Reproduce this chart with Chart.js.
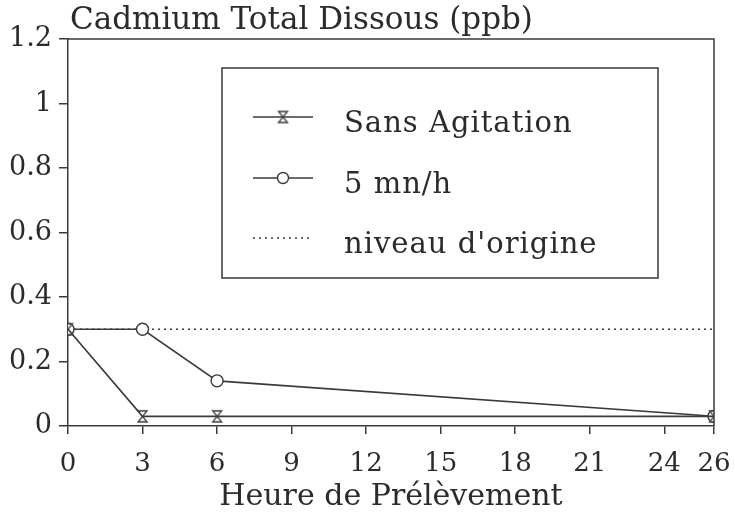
<!DOCTYPE html>
<html>
<head>
<meta charset="utf-8">
<script src="https://cdn.jsdelivr.net/npm/chart.js@4.4.1/dist/chart.umd.min.js"></script>
<style>
  html, body { margin: 0; padding: 0; background: #ffffff; }
  #wrap { position: relative; width: 735px; height: 515px; }
</style>
</head>
<body>
<div id="wrap"><canvas id="c"></canvas></div>
<script>
// ---- data ----
const chartTitle = "Cadmium Total Dissous (ppb)";
const xAxisTitle = "Heure de Prélèvement";
const hours = [0, 3, 6, 26];
const sansAgitation = [0.30, 0.03, 0.03, 0.03];
const agitation5 = [0.30, 0.30, 0.14, 0.03];
const niveauHours = [0, 26];
const niveauOrigine = [0.30, 0.30];
const seriesLabels = ["Sans Agitation", "5 mn/h", "niveau d'origine"];
const xTicks = [0, 3, 6, 9, 12, 15, 18, 21, 24, 26];
const yTicks = [0, 0.2, 0.4, 0.6, 0.8, 1, 1.2];

const INK = '#2b2b2b';
const LINE = '#3a3a3a';
const FONT = "'DejaVu Serif', serif";

function pts(xs, ys) { return xs.map((x, i) => ({ x: x, y: ys[i] })); }

function makeHourglass(w, h) {
  const c = document.createElement('canvas');
  c.width = w + 4; c.height = h + 4;
  const g = c.getContext('2d');
  g.strokeStyle = LINE; g.lineWidth = 1.3; g.fillStyle = '#ffffff';
  const l = 2, t = 2, r = 2 + w, b = 2 + h;
  g.beginPath();
  g.moveTo(l, t); g.lineTo(r, t); g.lineTo(l, b); g.lineTo(r, b); g.closePath();
  g.fill(); g.stroke();
  return c;
}
const hourglass = makeHourglass(9, 11);

const framePlugin = {
  id: 'frame',
  afterDatasetsDraw(chart) {
    const { ctx, chartArea: a } = chart;
    ctx.save();
    ctx.strokeStyle = LINE; ctx.lineWidth = 1.5;
    ctx.beginPath();
    ctx.moveTo(a.left, a.top); ctx.lineTo(a.right, a.top); ctx.lineTo(a.right, a.bottom);
    ctx.stroke();
    ctx.restore();
  }
};

const titlePlugin = {
  id: 'topTitle',
  afterDraw(chart) {
    const ctx = chart.ctx;
    ctx.save();
    ctx.fillStyle = INK;
    ctx.font = "31px " + FONT;
    ctx.textBaseline = 'alphabetic';
    ctx.textAlign = 'left';
    ctx.fillText(chartTitle, 70, 29);
    ctx.restore();
  }
};

const legendPlugin = {
  id: 'boxLegend',
  afterDraw(chart) {
    const ctx = chart.ctx;
    const box = { l: 222, t: 68, r: 658, b: 278 };
    ctx.save();
    ctx.fillStyle = '#ffffff';
    ctx.fillRect(box.l, box.t, box.r - box.l, box.b - box.t);
    ctx.strokeStyle = LINE; ctx.lineWidth = 1.5;
    ctx.strokeRect(box.l, box.t, box.r - box.l, box.b - box.t);
    const baselines = [132, 193, 253];
    chart.data.datasets.forEach((ds, i) => {
      const yb = baselines[i];
      const yl = yb - 15;
      ctx.save();
      ctx.strokeStyle = ds.borderColor; ctx.lineWidth = ds.borderWidth;
      ctx.setLineDash(ds.borderDash || []);
      ctx.beginPath(); ctx.moveTo(253, yl); ctx.lineTo(313, yl); ctx.stroke();
      ctx.restore();
      const cx = 283;
      if (ds.pointStyle instanceof HTMLCanvasElement) {
        ctx.drawImage(ds.pointStyle, cx - ds.pointStyle.width / 2, yl - ds.pointStyle.height / 2);
      } else if (ds.pointStyle === 'circle' && ds.pointRadius > 0) {
        ctx.beginPath(); ctx.arc(cx, yl, ds.pointRadius - 0.5, 0, Math.PI * 2);
        ctx.fillStyle = '#ffffff'; ctx.fill();
        ctx.strokeStyle = ds.borderColor; ctx.lineWidth = ds.pointBorderWidth; ctx.stroke();
      }
      ctx.fillStyle = INK;
      ctx.font = "29px " + FONT;
      ctx.letterSpacing = '1px';
      ctx.textAlign = 'left'; ctx.textBaseline = 'alphabetic';
      ctx.fillText(ds.label, 344, yb);
      ctx.letterSpacing = '0px';
    });
    ctx.restore();
  }
};

new Chart(document.getElementById('c'), {
  type: 'line',
  data: {
    datasets: [
      {
        label: seriesLabels[0],
        data: pts(hours, sansAgitation),
        borderColor: LINE, borderWidth: 1.6,
        pointStyle: hourglass, pointRadius: 6,
        order: 1
      },
      {
        label: seriesLabels[1],
        data: pts(hours, agitation5),
        borderColor: LINE, borderWidth: 1.6,
        pointStyle: 'circle', pointRadius: 6, pointBorderWidth: 1.4,
        pointBackgroundColor: '#ffffff', pointBorderColor: LINE,
        order: 2
      },
      {
        label: seriesLabels[2],
        data: pts(niveauHours, niveauOrigine),
        borderColor: LINE, borderWidth: 1.5, borderDash: [2, 4],
        pointRadius: 0,
        order: 3
      }
    ]
  },
  options: {
    responsive: true,
    maintainAspectRatio: false,
    animation: false,
    events: [],
    layout: { padding: { top: 39, right: 21, left: 0, bottom: 0 } },
    plugins: { legend: { display: false }, title: { display: false }, tooltip: { enabled: false } },
    elements: { line: { tension: 0 } },
    scales: {
      x: {
        type: 'linear', min: 0, max: 26,
        afterBuildTicks: (s) => { s.ticks = xTicks.map(v => ({ value: v })); },
        afterFit: (s) => { s.height = 89; s.paddingLeft = 0; s.paddingRight = 0; },
        grid: { drawOnChartArea: false, drawTicks: true, tickLength: 8, color: LINE, lineWidth: 1.5 },
        border: { display: true, color: LINE, width: 1.5 },
        ticks: { autoSkip: false, maxRotation: 0, padding: 15, color: INK,
                 font: { family: FONT, size: 26 }, callback: (v) => String(v) },
        title: { display: true, text: xAxisTitle, color: INK,
                 font: { family: FONT, size: 30 }, padding: { top: 0, bottom: 0 } }
      },
      y: {
        type: 'linear', min: 0, max: 1.2,
        afterBuildTicks: (s) => { s.ticks = yTicks.map(v => ({ value: v })); },
        afterFit: (s) => { s.width = 68; s.paddingTop = 0; s.paddingBottom = 0; },
        grid: { drawOnChartArea: false, drawTicks: true, tickLength: 9, color: LINE, lineWidth: 1.5 },
        border: { display: true, color: LINE, width: 1.5 },
        ticks: { autoSkip: false, padding: 7, color: INK,
                 font: { family: FONT, size: 27 }, callback: (v) => String(Math.round(v * 10) / 10) }
      }
    }
  },
  plugins: [framePlugin, titlePlugin, legendPlugin]
});
</script>
</body>
</html>
